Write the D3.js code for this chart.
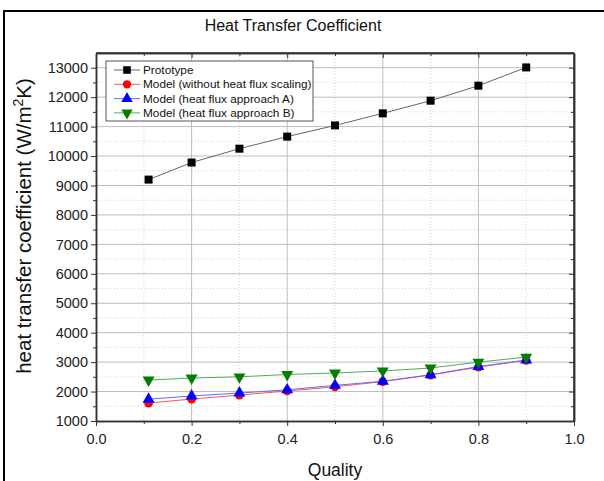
<!DOCTYPE html>
<html>
<head>
<meta charset="utf-8">
<script src="https://cdn.jsdelivr.net/npm/d3@7"></script>
<style>
  body { margin: 0; background: #fff; }
  svg { font-family: "Liberation Sans", Arial, sans-serif; }
</style>
</head>
<body>
<svg id="chart" width="604" height="481"></svg>
<script>
// Heat transfer coefficient vs quality, prototype against three model variants

const quality = [0.11, 0.2, 0.3, 0.4, 0.5, 0.6, 0.7, 0.8, 0.9];
const prototype = [9200, 9780, 10250, 10660, 11040, 11450, 11880, 12390, 13010];
const modelNoScaling = [1610, 1745, 1880, 2020, 2160, 2340, 2560, 2830, 3060];
const modelA = [1740, 1850, 1950, 2060, 2210, 2350, 2570, 2850, 3070];
const modelB = [2390, 2460, 2500, 2580, 2630, 2700, 2800, 3000, 3170];

const xTicks = [0.0, 0.2, 0.4, 0.6, 0.8, 1.0];
const yTicks = [1000, 2000, 3000, 4000, 5000, 6000, 7000, 8000, 9000, 10000, 11000, 12000, 13000];

const seriesNames = [
  "Prototype",
  "Model (without heat flux scaling)",
  "Model (heat flux approach A)",
  "Model (heat flux approach B)"
];

const series = [
  { name: seriesNames[0], values: prototype, color: "#000", line: "#666", symbol: d3.symbolSquare, size: 64, rot: 0 },
  { name: seriesNames[1], values: modelNoScaling, color: "#ff0000", line: "#ff5555", symbol: d3.symbolCircle, size: 60, rot: 0 },
  { name: seriesNames[2], values: modelA, color: "#0000ff", line: "#6666ff", symbol: d3.symbolTriangle, size: 62, rot: 0 },
  { name: seriesNames[3], values: modelB, color: "#008000", line: "#55aa55", symbol: d3.symbolTriangle, size: 62, rot: 180 }
];

const margin = { top: 53, right: 30, bottom: 60, left: 96 };
const width = 574 - margin.left;
const height = 421 - margin.top;

const svg = d3.select("#chart");

// outer frame
svg.append("path")
  .attr("d", "M4,481 V11 H604")
  .attr("fill", "none")
  .attr("stroke", "#000")
  .attr("stroke-width", 2);

const g = svg.append("g")
  .attr("transform", `translate(${margin.left},${margin.top})`);

const x = d3.scaleLinear().domain([0, 1]).range([0, width]);
const y = d3.scaleLinear().domain([1000, 13500]).range([height, 0]);

const xMinor = d3.range(0.1, 1, 0.2);
const yMinor = d3.range(1500, 13500, 1000);

// minor grid (dotted)
g.append("g").selectAll("line")
  .data(xMinor)
  .enter().append("line")
  .attr("x1", d => x(d)).attr("x2", d => x(d))
  .attr("y1", 0).attr("y2", height)
  .attr("stroke", "#d4d4d4").attr("stroke-dasharray", "1,2");

g.append("g").selectAll("line")
  .data(yMinor)
  .enter().append("line")
  .attr("x1", 0).attr("x2", width)
  .attr("y1", d => y(d)).attr("y2", d => y(d))
  .attr("stroke", "#d4d4d4").attr("stroke-dasharray", "1,2");

// major grid
g.append("g").selectAll("line")
  .data(xTicks.slice(1, -1))
  .enter().append("line")
  .attr("x1", d => x(d)).attr("x2", d => x(d))
  .attr("y1", 0).attr("y2", height)
  .attr("stroke", "#bdbdbd");

g.append("g").selectAll("line")
  .data(yTicks.slice(1))
  .enter().append("line")
  .attr("x1", 0).attr("x2", width)
  .attr("y1", d => y(d)).attr("y2", d => y(d))
  .attr("stroke", "#bdbdbd");

// axes
const xAxis = g.append("g")
  .attr("transform", `translate(0,${height})`)
  .call(d3.axisBottom(x).tickValues(xTicks).tickFormat(d3.format(".1f")).tickSize(5).tickSizeOuter(0));
g.append("g")
  .attr("transform", `translate(0,${height})`)
  .call(d3.axisBottom(x).tickValues(xMinor).tickFormat("").tickSize(3).tickSizeOuter(0));

const yAxis = g.append("g")
  .call(d3.axisLeft(y).tickValues(yTicks).tickFormat(d3.format("d")).tickSize(5).tickSizeOuter(0));
g.append("g")
  .call(d3.axisLeft(y).tickValues(yMinor).tickFormat("").tickSize(3).tickSizeOuter(0));

// mirror axes (ticks pointing in)
g.append("g")
  .call(d3.axisBottom(x).tickValues(xTicks).tickFormat("").tickSize(5).tickSizeOuter(0));
g.append("g")
  .call(d3.axisBottom(x).tickValues(xMinor).tickFormat("").tickSize(3).tickSizeOuter(0));
g.append("g")
  .attr("transform", `translate(${width},0)`)
  .call(d3.axisLeft(y).tickValues(yTicks).tickFormat("").tickSize(5).tickSizeOuter(0));
g.append("g")
  .attr("transform", `translate(${width},0)`)
  .call(d3.axisLeft(y).tickValues(yMinor).tickFormat("").tickSize(3).tickSizeOuter(0));

g.selectAll(".domain").attr("stroke", "#333").attr("stroke-width", 1.5);
g.selectAll(".tick line").attr("stroke", "#333");
g.selectAll(".tick text").attr("font-size", 14.5).attr("fill", "#222")
  .attr("font-family", "Liberation Sans, Arial, sans-serif");
xAxis.selectAll(".tick text").attr("dy", "1.0em");

// frame edges at top and right
g.append("line").attr("x1", 0).attr("x2", width).attr("y1", 0).attr("y2", 0)
  .attr("stroke", "#333").attr("stroke-width", 1.5);
g.append("line").attr("x1", width).attr("x2", width).attr("y1", 0).attr("y2", height)
  .attr("stroke", "#333").attr("stroke-width", 1.5);

// series
const line = d3.line()
  .x((d, i) => x(quality[i]))
  .y(d => y(d));

series.forEach(s => {
  g.append("path")
    .datum(s.values)
    .attr("fill", "none")
    .attr("stroke", s.line)
    .attr("stroke-width", 1)
    .attr("d", line);
});

series.forEach(s => {
  g.append("g").selectAll("path")
    .data(s.values)
    .enter().append("path")
    .attr("d", d3.symbol().type(s.symbol).size(s.size))
    .attr("transform", (d, i) => `translate(${x(quality[i])},${y(d)}) rotate(${s.rot})`)
    .attr("fill", s.color);
});

// legend
const legend = g.append("g").attr("transform", "translate(10,8)");
legend.append("rect")
  .attr("width", 207).attr("height", 60)
  .attr("fill", "#fff").attr("stroke", "#555");

series.forEach((s, i) => {
  const row = legend.append("g").attr("transform", `translate(0,${9 + i * 14.3})`);
  row.append("line").attr("x1", 8).attr("x2", 34)
    .attr("stroke", s.line).attr("stroke-width", 1);
  row.append("path")
    .attr("d", d3.symbol().type(s.symbol).size(s.size * 0.9))
    .attr("transform", `translate(21,0) rotate(${s.rot})`)
    .attr("fill", s.color);
  row.append("text")
    .attr("x", 37).attr("dy", "0.35em")
    .attr("font-size", 11.8).attr("fill", "#111")
    .text(s.name);
});

// title
svg.append("text")
  .attr("x", 293).attr("y", 31)
  .attr("text-anchor", "middle")
  .attr("font-size", 16).attr("fill", "#111")
  .text("Heat Transfer Coefficient");

// x label
svg.append("text")
  .attr("x", margin.left + width / 2).attr("y", 476)
  .attr("text-anchor", "middle")
  .attr("font-size", 17.5).attr("fill", "#111")
  .text("Quality");

// y label
const yl = svg.append("text")
  .attr("transform", `translate(31,${margin.top + height / 2 - 11}) rotate(-90)`)
  .attr("text-anchor", "middle")
  .attr("font-size", 20.5).attr("fill", "#111");
yl.append("tspan").text("heat transfer coefficient (W/m");
yl.append("tspan").attr("font-size", 14).attr("dy", -8).text("2");
yl.append("tspan").attr("dy", 8).text("K)");
</script>
</body>
</html>
